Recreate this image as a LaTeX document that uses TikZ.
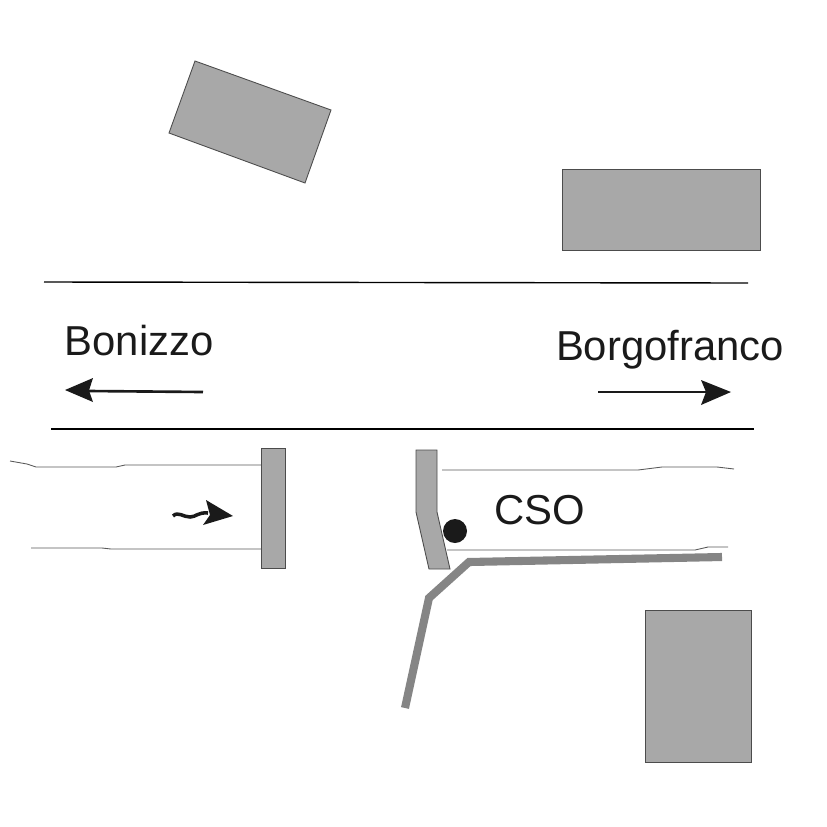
\documentclass[tikz,border=0pt]{standalone}
\usepackage{fontspec}
\setmainfont{Liberation Sans}
\usetikzlibrary{positioning}
\definecolor{housegray}{HTML}{A8A8A8}
\definecolor{pipegray}{HTML}{858585}
\definecolor{inkblack}{HTML}{1A1A1A}
\tikzset{
  house/.style={draw=black!70,line width=.25pt,fill=housegray},
  road/.style={draw=black,line width=.4pt},
  bank/.style={draw=black!65,line width=.25pt},
  pipe/.style={draw=pipegray,line width=2.3pt,line join=miter},
  place/.style={inner sep=0pt,text=inkblack,font=\fontsize{11.9}{14}\selectfont},
  shaft/.style={draw=inkblack,line width=.75pt},
  head/.style={fill=inkblack}
}
\begin{document}
\begin{tikzpicture}[x=.01cm,y=-.01cm]
\useasboundingbox (0,0) rectangle (827,827);
% houses
\draw[house] (195,61)--(331,110)--(305,183)--(169,133)--cycle;
\draw[house] (562,169) rectangle (760,250);
\draw[house] (645,610) rectangle (751,762);
% road
\draw[road] (44,282)--(748,283);
\draw[road] (51,429)--(754,429);
% directions
\node[place] (bonizzo) at (139,341) {Bonizzo};
\node[place] (borgofranco) at (670,350) {Borgofranco};
\coordinate (leftfrom) at (203,392);
\coordinate (leftto) at (88,391);
\coordinate (rightfrom) at (598,392);
\coordinate (rightto) at (708,392);
\draw[shaft] (leftfrom)--(leftto);
\fill[head] (65,390)--(93,378)--(89,390.5)--(93,402)--cycle;
\draw[shaft] (rightfrom)--(rightto);
\fill[head] (731,392)--(701,380)--(706,392)--(701,405)--cycle;
% canal, left part
\draw[bank] (10,461)--(27,464)--(36,467)--(116,467)--(125,465)--(261,465);
\draw[bank] (31,548)--(102,548)--(111,549)--(261,549);
\draw[house] (261,448) rectangle (285,568);
% flow
\draw[inkblack,line width=1pt] (173,516) .. controls (178,511) and (183,517) .. (190,517) .. controls (196,517) and (198,512) .. (208,513);
\fill[head] (233,516)--(206,500)--(210,515)--(203,525)--cycle;
% canal, right part
\draw[bank] (442,470)--(638,470)--(662,467)--(717,467)--(734,469);
\draw[bank] (447,550)--(695,550)--(708,547)--(728,547);
\draw[house] (416,450)--(437,450)--(437,512)--(450,569)--(429,569)--(416,512)--cycle;
\fill[inkblack] (455,531) circle(12);
\node[place] (cso) at (540,510) {CSO};
% sewer
\draw[pipe] (722,557)--(469,562)--(429,598)--(405,708);
\end{tikzpicture}
\end{document}
